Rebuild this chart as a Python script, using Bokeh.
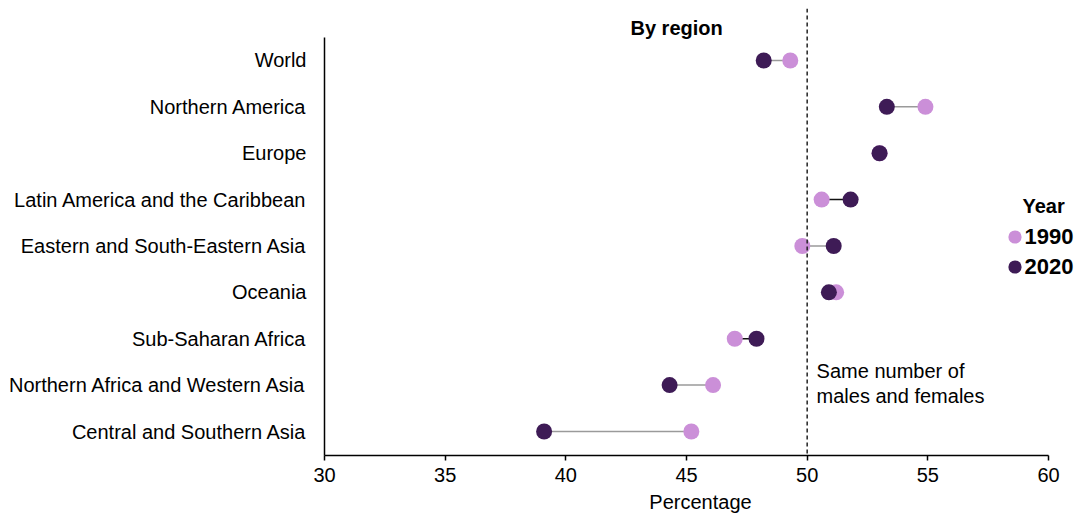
from bokeh.plotting import figure
from bokeh.models import Span, Label, Legend, LegendItem, FixedTicker, Range1d
from bokeh.embed import file_html
from bokeh.resources import INLINE

# ---- data ----
regions = [
    "World",
    "Northern America",
    "Europe",
    "Latin America and the Caribbean",
    "Eastern and South-Eastern Asia",
    "Oceania",
    "Sub-Saharan Africa",
    "Northern Africa and Western Asia",
    "Central and Southern Asia",
]
pct_1990 = [49.3, 54.9, 53.0, 50.6, 49.8, 51.2, 47.0, 46.1, 45.2]
pct_2020 = [48.2, 53.3, 53.0, 51.8, 51.1, 50.9, 47.9, 44.3, 39.1]
years = ["1990", "2020"]
x_ticks = [30, 35, 40, 45, 50, 55, 60]
parity = 50

# ---- styles ----
FONT = "Liberation Sans"
C1990 = "#CB8FD8"
C2020 = "#3E1B56"
connector_colors = ["#9a9a9a", "#9a9a9a", "#9a9a9a", "#111111", "#9a9a9a",
                    "#9a9a9a", "#111111", "#9a9a9a", "#9a9a9a"]

ypos = list(range(len(regions) - 1, -1, -1))

p = figure(width=1076, height=519,
           x_range=Range1d(30, 61.16), y_range=Range1d(-0.5175, 9.121),
           output_backend="svg", toolbar_location=None,
           min_border_left=324, min_border_right=0,
           min_border_top=8, min_border_bottom=64)
p.outline_line_color = None
p.grid.visible = False
p.background_fill_color = "white"
p.border_fill_color = "white"

# parity line
p.add_layout(Span(location=parity, dimension="height", line_color="#222222",
                  line_dash="4 3", line_width=1.5))

# connectors
p.segment(x0=pct_2020, y0=ypos, x1=pct_1990, y1=ypos,
          line_color=connector_colors, line_width=1.5)

r1 = p.scatter(pct_1990, ypos, size=16, fill_color=C1990, line_color=None)
r2 = p.scatter(pct_2020, ypos, size=16, fill_color=C2020, line_color=None)

# axes
xa = p.xaxis[0]
xa.ticker = FixedTicker(ticks=x_ticks)
xa.bounds = (30, 60)
xa.axis_label = "Percentage"
xa.axis_label_text_font = FONT
xa.axis_label_text_font_size = "20px"
xa.axis_label_text_font_style = "normal"
xa.axis_label_text_color = "black"
xa.axis_label_standoff = 6
xa.major_label_text_font = FONT
xa.major_label_text_font_size = "20px"
xa.major_label_text_color = "black"
xa.major_label_standoff = 7
xa.major_tick_out = 5
xa.major_tick_in = 0
xa.minor_tick_out = 0
xa.minor_tick_in = 0
xa.axis_line_color = "black"
xa.axis_line_width = 1.5
xa.major_tick_line_color = "black"
xa.major_tick_line_width = 1.5

ya = p.yaxis[0]
ya.ticker = FixedTicker(ticks=ypos)
ya.major_label_overrides = {y: name for y, name in zip(ypos, regions)}
ya.major_label_text_font = FONT
ya.major_label_text_font_size = "20px"
ya.major_label_text_color = "black"
ya.major_label_standoff = 18
ya.major_tick_out = 0
ya.major_tick_in = 0
ya.minor_tick_out = 0
ya.minor_tick_in = 0
ya.axis_line_color = "black"
ya.axis_line_width = 1.5
ya.bounds = (-0.5175, 8.5)

# title and annotation
p.add_layout(Label(x=44.59, y=8.71, text="By region", text_font=FONT,
                   text_font_size="20px", text_font_style="bold",
                   text_align="center", text_baseline="middle", text_color="black"))
p.add_layout(Label(x=50.39, y=1.294, text="Same number of", text_font=FONT,
                   text_font_size="20px", text_align="left", text_baseline="middle",
                   text_color="black"))
p.add_layout(Label(x=50.39, y=0.776, text="males and females", text_font=FONT,
                   text_font_size="20px", text_align="left", text_baseline="middle",
                   text_color="black"))

# legend: title, glyph-only legends, and year labels
p.add_layout(Label(x=58.92, y=4.873, text="Year", text_font=FONT,
                   text_font_size="20px", text_font_style="bold",
                   text_align="left", text_baseline="middle", text_color="black"))


def year_glyph(renderer, vy):
    return Legend(items=[LegendItem(label=" ", renderers=[renderer])],
                  location=(674, vy), glyph_width=33, glyph_height=33,
                  spacing=0, padding=0, margin=0, label_standoff=0,
                  border_line_color=None, background_fill_alpha=0,
                  label_text_font_size="4px", label_width=1, label_height=1)


p.add_layout(year_glyph(r1, 202.5))
p.add_layout(year_glyph(r2, 172.5))
for yr, ly in zip(years, [4.205, 3.558]):
    p.add_layout(Label(x=59.006, y=ly, text=yr, text_font=FONT,
                       text_font_size="22px", text_font_style="bold",
                       text_align="left", text_baseline="middle", text_color="black"))

open("out.html", "w").write(file_html(p, INLINE))
